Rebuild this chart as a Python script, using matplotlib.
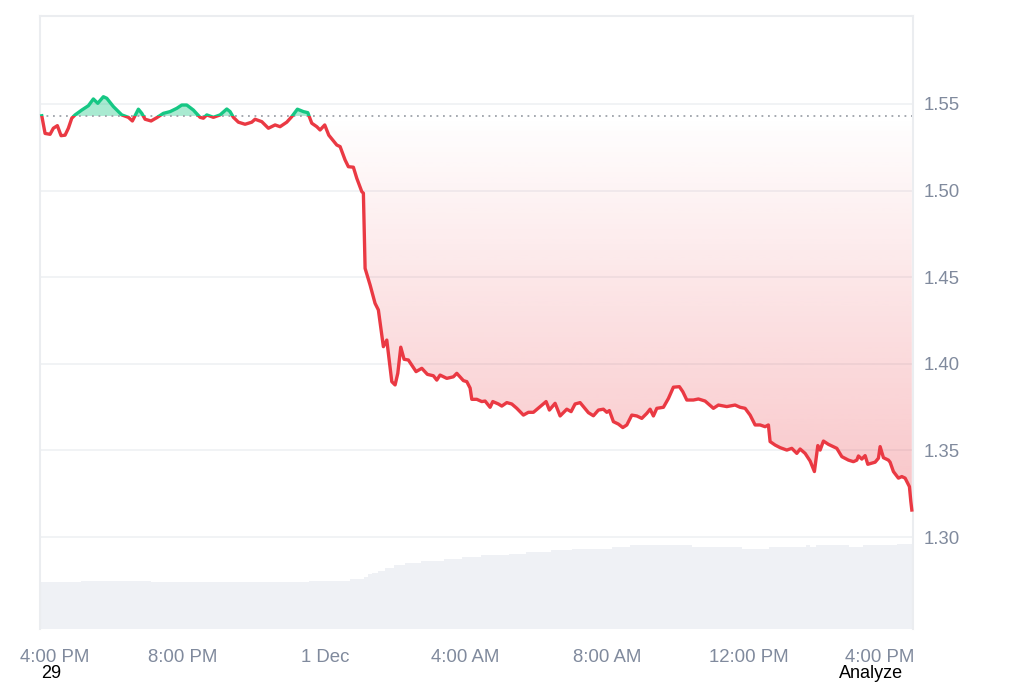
import numpy as np
import matplotlib
matplotlib.use("Agg")
import matplotlib.pyplot as plt
from matplotlib.patches import Rectangle
from matplotlib.path import Path
from matplotlib.transforms import blended_transform_factory, offset_copy

# ---------------- data ----------------
# hours since 4:00 PM (Nov 30)
price_hours = [
    0.02, 0.113, 0.254, 0.346, 0.459, 0.563, 0.676, 0.769, 0.865, 0.958,
    1.146, 1.332, 1.473, 1.597, 1.755, 1.851, 2.037, 2.273, 2.459, 2.572,
    2.741, 2.837, 2.930, 3.099, 3.259, 3.445, 3.634, 3.823, 3.963, 4.104,
    4.290, 4.479, 4.572, 4.668, 4.854, 5.042, 5.231, 5.324, 5.417, 5.558,
    5.746, 5.935, 6.028, 6.217, 6.403, 6.592, 6.732, 6.921, 7.062, 7.220,
    7.389, 7.513, 7.625, 7.766, 7.859, 7.990, 8.104, 8.330, 8.423, 8.563,
    8.656, 8.797, 8.893, 9.034, 9.079, 9.127, 9.268, 9.408, 9.501, 9.642,
    9.738, 9.879, 9.972, 10.048, 10.132, 10.225, 10.346, 10.563, 10.724, 10.882,
    11.051, 11.146, 11.239, 11.428, 11.614, 11.710, 11.896, 11.992, 12.085, 12.132,
    12.273, 12.414, 12.507, 12.648, 12.724, 12.882, 12.977, 13.118, 13.259, 13.400,
    13.586, 13.727, 13.868, 14.056, 14.225, 14.318, 14.479, 14.620, 14.808, 14.930,
    15.042, 15.183, 15.417, 15.558, 15.699, 15.839, 15.935, 16.008, 16.121, 16.262,
    16.386, 16.499, 16.639, 16.780, 16.921, 17.062, 17.155, 17.248, 17.344, 17.530,
    17.671, 17.811, 17.980, 18.076, 18.189, 18.375, 18.516, 18.704, 18.938, 19.079,
    19.315, 19.549, 19.690, 19.831, 19.972, 20.113, 20.254, 20.394, 20.487, 20.535,
    20.676, 20.817, 21.006, 21.146, 21.287, 21.380, 21.521, 21.662, 21.783, 21.879,
    21.944, 22.037, 22.178, 22.414, 22.555, 22.741, 22.882, 22.977, 23.023, 23.118,
    23.211, 23.287, 23.493, 23.586, 23.634, 23.727, 23.868, 23.915, 24.008, 24.149,
    24.245, 24.338, 24.459, 24.499, 24.527,
]
price_values = [
    1.5432, 1.5330, 1.5325, 1.5360, 1.5375, 1.5317, 1.5320, 1.5360, 1.5418, 1.5437,
    1.5465, 1.5490, 1.5529, 1.5504, 1.5542, 1.5533, 1.5485, 1.5437, 1.5423, 1.5402,
    1.5470, 1.5446, 1.5412, 1.5402, 1.5421, 1.5446, 1.5456, 1.5475, 1.5494, 1.5494,
    1.5465, 1.5423, 1.5418, 1.5437, 1.5423, 1.5437, 1.5471, 1.5456, 1.5423, 1.5395,
    1.5383, 1.5395, 1.5412, 1.5398, 1.5360, 1.5379, 1.5369, 1.5395, 1.5427, 1.5470,
    1.5456, 1.5450, 1.5389, 1.5369, 1.5350, 1.5379, 1.5320, 1.5263, 1.5254, 1.5177,
    1.5138, 1.5135, 1.5071, 1.4994, 1.4985, 1.4551, 1.4455, 1.4349, 1.4311, 1.4099,
    1.4137, 1.3897, 1.3878, 1.3945, 1.4096, 1.4026, 1.4022, 1.3955, 1.3974, 1.3939,
    1.3931, 1.3906, 1.3935, 1.3916, 1.3925, 1.3945, 1.3903, 1.3897, 1.3860, 1.3795,
    1.3795, 1.3782, 1.3785, 1.3749, 1.3782, 1.3768, 1.3756, 1.3776, 1.3768, 1.3743,
    1.3704, 1.3720, 1.3720, 1.3753, 1.3782, 1.3733, 1.3772, 1.3699, 1.3738, 1.3724,
    1.3768, 1.3776, 1.3718, 1.3700, 1.3733, 1.3738, 1.3720, 1.3730, 1.3666, 1.3652,
    1.3632, 1.3647, 1.3704, 1.3699, 1.3685, 1.3714, 1.3738, 1.3699, 1.3743, 1.3749,
    1.3800, 1.3865, 1.3868, 1.3839, 1.3791, 1.3791, 1.3797, 1.3785, 1.3743, 1.3762,
    1.3753, 1.3762, 1.3749, 1.3743, 1.3704, 1.3647, 1.3647, 1.3637, 1.3647, 1.3551,
    1.3531, 1.3516, 1.3502, 1.3512, 1.3483, 1.3508, 1.3483, 1.3439, 1.3378, 1.3528,
    1.3502, 1.3554, 1.3535, 1.3512, 1.3464, 1.3444, 1.3435, 1.3444, 1.3468, 1.3450,
    1.3470, 1.3420, 1.3432, 1.3455, 1.3522, 1.3458, 1.3444, 1.3432, 1.3378, 1.3340,
    1.3349, 1.3340, 1.3291, 1.3205, 1.3156,
]
baseline_price = 1.5431

# 24h volume, step levels (arbitrary units)
volume_start_hours = [
    -0.03, 1.135, 3.10, 7.56, 8.69, 9.09, 9.20, 9.33, 9.49, 9.68, 9.94, 10.26,
    10.70, 11.34, 11.85, 12.39, 13.19, 13.67, 14.35, 14.96, 16.08, 16.59, 18.33,
    19.74, 20.50, 21.54, 21.67, 21.83, 22.75, 23.15, 24.12,
]
volume_end_hour = 24.56
volume_values = [
    467, 480, 467, 480, 497, 523, 547, 563, 583, 613, 643, 663,
    683, 697, 717, 737, 753, 767, 787, 803, 820, 837, 820,
    803, 820, 837, 820, 837, 820, 837, 853,
]

xtick_hours = [0, 4, 8, 12, 16, 20, 24]
xtick_labels = ["4:00 PM", "8:00 PM", "1 Dec", "4:00 AM", "8:00 AM", "12:00 PM", "4:00 PM"]
ytick_values = [1.30, 1.35, 1.40, 1.45, 1.50, 1.55]

# ---------------- style ----------------
RED = "#ea3943"
GREEN = "#16c784"
LABEL = "#808a9d"
GRID = "#eff1f3"
plt.rcParams["font.family"] = ["Liberation Sans", "DejaVu Sans"]

t = np.array(price_hours)
p = np.array(price_values)
base = baseline_price

fig = plt.figure(figsize=(10.24, 6.83), dpi=100)
pos = [40 / 1024, 54 / 683, 873 / 1024, 613 / 683]
xlim = (-0.03, 24.56)
ylim = (1.2469, 1.6008)

# volume axis (behind)
axv = fig.add_axes(pos)
edges = np.array(volume_start_hours + [volume_end_hour])
axv.bar(edges[:-1], volume_values, width=np.diff(edges), align="edge",
        color="#eff1f5", linewidth=0)
axv.set_xlim(*xlim)
axv.set_ylim(0, 6130)
axv.axis("off")

# price axis
ax = fig.add_axes(pos)
ax.patch.set_alpha(0)
ax.set_xlim(*xlim)
ax.set_ylim(*ylim)

# grid
for v in ytick_values:
    ax.axhline(v, color=GRID, lw=1.2, zorder=0)

# green fill above baseline
ax.fill_between(t, p, base, where=p >= base, interpolate=True,
                color=GREEN, alpha=0.37, linewidth=0, zorder=1)

# red gradient fill below baseline
polys = ax.fill_between(t, p, base, where=p <= base, interpolate=True,
                        facecolor="none", edgecolor="none")
clip = Path.make_compound_path(*polys.get_paths())
grad = np.zeros((256, 1, 4))
grad[..., :3] = matplotlib.colors.to_rgb(RED)
grad[:, 0, 3] = np.linspace(0.30, 0.0, 256)
im = ax.imshow(grad, extent=[t.min(), t.max(), p.min(), base], origin="lower",
               aspect="auto", interpolation="bilinear", zorder=1)
im.set_clip_path(clip, ax.transData)
ax.set_xlim(*xlim)
ax.set_ylim(*ylim)

# baseline dotted
ax.axhline(base, color="#9ea3aa", lw=1.3, linestyle=(0, (1, 2.6)), zorder=2)

# line, coloured by side of baseline
big = 10
above = Rectangle((xlim[0] - 1, base), 30, big, transform=ax.transData)
below = Rectangle((xlim[0] - 1, base - big), 30, big, transform=ax.transData)
l1, = ax.plot(t, p, color=GREEN, lw=2.4, solid_joinstyle="round", zorder=3)
l1.set_clip_path(above)
l2, = ax.plot(t, p, color=RED, lw=2.4, solid_joinstyle="round", zorder=3)
l2.set_clip_path(below)

# spines
for s in ["left", "right", "top"]:
    ax.spines[s].set_color("#ebedf0")
    ax.spines[s].set_linewidth(1.5)
ax.spines["bottom"].set_visible(False)

# y ticks on right
ax.yaxis.tick_right()
ax.set_yticks(ytick_values)
ax.set_yticklabels([f"{v:.2f}" for v in ytick_values])
ax.tick_params(axis="y", length=0, pad=8, labelsize=13.4, labelcolor=LABEL)

# x ticks (labels drawn as text with small offsets at the edges)
ax.set_xticks(xtick_hours)
ax.set_xticklabels([])
ax.tick_params(axis="x", length=0)
trans = blended_transform_factory(ax.transData, ax.transAxes)
offsets_px = [14, 0, 0, -2, -2, -2, -13]
for h, lab, dx in zip(xtick_hours, xtick_labels, offsets_px):
    tr = offset_copy(trans, fig=fig, x=dx * 0.72, y=-28 * 0.72, units="points")
    ax.text(h, 0, lab, transform=tr, ha="center", va="center",
            fontsize=13.4, color=LABEL)

fig.text(40.7 / 1024, 4.5 / 683, "29", fontsize=13, color="black",
         ha="left", va="baseline")
fig.text(839 / 1024, 4.5 / 683, "Analyze", fontsize=13, color="black",
         ha="left", va="baseline")

fig.savefig("out.png", dpi=100)
